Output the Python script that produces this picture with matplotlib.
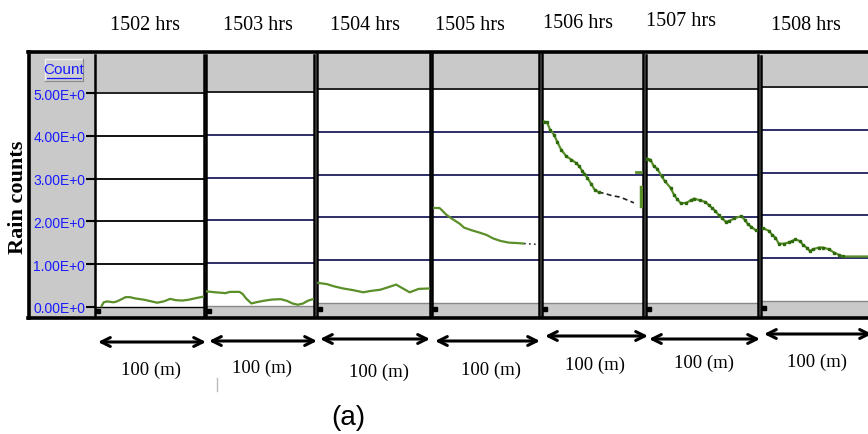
import matplotlib

matplotlib.use("Agg")

import matplotlib.pyplot as plt
from matplotlib.lines import Line2D
from matplotlib.patches import Rectangle

W, H = 868, 435

hours = ["1502 hrs", "1503 hrs", "1504 hrs", "1505 hrs", "1506 hrs", "1507 hrs", "1508 hrs"]
y_ticks = [0, 1, 2, 3, 4, 5]
y_tick_labels = ["0.00E+0", "1.00E+0", "2.00E+0", "3.00E+0", "4.00E+0", "5.00E+0"]
y_label = "Rain counts"
unit_label = "Count"
span_label = "100 (m)"
caption = "(a)"

# rain counts along each 100 m segment (x in % of segment)
p1_x = [6, 8, 11, 17, 20, 25, 28, 32, 37, 45, 52, 57, 63, 69, 74, 80, 86, 93, 99]
p1_y = [0.02, 0.11, 0.13, 0.11, 0.13, 0.19, 0.23, 0.23, 0.20, 0.17, 0.13, 0.10, 0.13, 0.19, 0.16, 0.15, 0.17, 0.21, 0.24]
p2_x = [1, 9, 18, 22, 31, 34, 37, 42, 47, 53, 61, 69, 75, 80, 85, 90, 94, 99]
p2_y = [0.34, 0.32, 0.30, 0.33, 0.33, 0.28, 0.18, 0.06, 0.09, 0.12, 0.15, 0.16, 0.12, 0.06, 0.03, 0.06, 0.12, 0.16]
p3_x = [1, 9, 15, 23, 32, 41, 47, 56, 62, 70, 76, 82, 90, 100]
p3_y = [0.47, 0.44, 0.39, 0.34, 0.30, 0.25, 0.28, 0.31, 0.36, 0.43, 0.34, 0.25, 0.33, 0.34]
p4_x = [2, 7, 10, 13, 18, 26, 30, 37, 45, 51, 57, 64, 72, 80, 85]
p4_y = [2.22, 2.22, 2.15, 2.07, 1.98, 1.85, 1.76, 1.70, 1.64, 1.59, 1.51, 1.45, 1.41, 1.40, 1.39]
p5_x = [2, 5, 8, 12, 15, 19, 24, 29, 34, 37, 40, 42, 45, 49, 52, 56]
p5_y = [4.24, 4.22, 4.05, 3.93, 3.77, 3.58, 3.43, 3.35, 3.27, 3.19, 3.08, 3.02, 2.92, 2.77, 2.65, 2.59]
p6_x = [1, 4, 7, 10, 14, 17, 22, 25, 28, 31, 36, 40, 43, 48, 53, 56, 59, 62, 65, 68, 71, 74, 79, 85, 88, 91, 94, 98]
p6_y = [3.37, 3.35, 3.19, 3.14, 2.96, 2.84, 2.69, 2.53, 2.42, 2.33, 2.34, 2.40, 2.44, 2.40, 2.36, 2.29, 2.22, 2.15,
        2.05, 1.98, 1.90, 1.91, 1.98, 2.03, 1.95, 1.84, 1.78, 1.70]
p7_x = [2, 7, 10, 13, 16, 21, 25, 28, 31, 35, 38, 41, 44, 47, 52, 56, 61, 66, 70, 74, 98]
p7_y = [1.70, 1.64, 1.55, 1.48, 1.34, 1.34, 1.37, 1.40, 1.44, 1.40, 1.31, 1.25, 1.17, 1.21, 1.25, 1.25, 1.21, 1.13,
        1.08, 1.04, 1.04]

# dotted (unsmoothed) tails and stray pieces
p4_tail_x = [86, 90, 94, 97]
p4_tail_y = [1.39, 1.38, 1.38, 1.37]
p5_tail_x = [56, 62, 69, 76, 82, 91]
p5_tail_y = [2.59, 2.56, 2.51, 2.48, 2.43, 2.34]
p5_end_x = [93, 98]
p5_end_y = [3.06, 3.06]
p5_drop_x = [98.5, 98.5]
p5_drop_y = [2.70, 2.26]

series_x = [p1_x, p2_x, p3_x, p4_x, p5_x, p6_x, p7_x]
series_y = [p1_y, p2_y, p3_y, p4_y, p5_y, p6_y, p7_y]

# layout in pixels: panel left/right, y of value 0, header top
panel_left = [95, 206, 317, 432, 542, 646, 761]
panel_right = [204, 314, 430, 539, 643, 758, 872]
zero_px = [308, 307, 304, 304, 304, 304, 302]
top_px = [56, 56, 55, 55, 55, 56, 57]
bottom_px = 317
px_per_unit = 42.8
title_x = [145, 258, 365, 470, 578, 681, 806]
title_y = [25, 25, 25, 26, 24, 22, 25]
arrow_y = [343, 342, 340, 342, 337, 340, 335]
arrow_right = [206, 317, 430, 540, 648, 760, 872]
span_x = [151, 262, 379, 491, 595, 704, 817]
span_y = [370, 368, 372, 370, 365, 363, 362]
marked = [False, False, False, False, True, True, True]

GRAY = "#c9c9c9"
GREEN = "#5a8f29"
DARK_GREEN = "#2f6b0c"
NAVY = "#1c1c5e"
BLUE = "#1a1aff"


def fx(x):
    return x / W


def fy(y):
    return 1 - y / H


fig = plt.figure(figsize=(W / 100, H / 100), dpi=100)
fig.patch.set_facecolor("white")

bg = fig.add_axes([0, 0, 1, 1], zorder=-1)
bg.set_xlim(0, W)
bg.set_ylim(H, 0)
bg.axis("off")
bg.add_patch(Rectangle((29, 53), W - 29, 266, facecolor=GRAY, edgecolor="none"))

# "Count" button
bg.add_patch(Rectangle((45, 60), 38, 22, facecolor="#d0d0d0", edgecolor="#f2f2f2", lw=1.0))
bg.plot([45, 83, 83], [82, 82, 60], color="#8a8a8a", lw=1.0)
bg.text(64, 70, unit_label, color=BLUE, fontsize=11, family="Liberation Sans", ha="center", va="center")
bg.plot([47, 81], [78.5, 78.5], color=BLUE, lw=0.9)

bg.text(18, 197, y_label, rotation=90, fontsize=16, fontweight="bold", family="Liberation Serif",
        ha="center", va="center")

for i, hour in enumerate(hours):
    bg.text(title_x[i], title_y[i], hour, fontsize=14.5, family="Liberation Serif", ha="center", va="center")
    bg.annotate("", xy=(arrow_right[i], arrow_y[i]), xytext=(panel_left[i] + 3, arrow_y[i]),
                annotation_clip=False,
                arrowprops=dict(arrowstyle="<->", lw=2.2, color="black", mutation_scale=16,
                                shrinkA=0, shrinkB=0))
    bg.text(span_x[i], span_y[i], span_label, fontsize=13.5, family="Liberation Serif", ha="center", va="center")

bg.plot([217, 217], [379, 392], color="#bbbbbb", lw=1)
bg.text(348, 418, caption, fontsize=20, family="Liberation Sans", ha="center", va="center")

for i in range(len(hours)):
    l, r = panel_left[i], panel_right[i]
    ax = fig.add_axes([fx(l), fy(bottom_px), (r - l) / W, (bottom_px - top_px[i]) / H], zorder=1)
    ymin = -(bottom_px - zero_px[i]) / px_per_unit
    ymax = (zero_px[i] - top_px[i]) / px_per_unit
    ax.set_xlim(0, 100)
    ax.set_ylim(ymin, ymax)
    ax.set_facecolor("white")
    ax.axhspan(5, ymax, color=GRAY, lw=0)
    ax.axhspan(ymin, 0, color=GRAY, lw=0)
    grid_color = "black" if i == 0 else NAVY
    for level in [1, 2, 3, 4]:
        ax.axhline(level, color=grid_color, lw=1.3)
    ax.axhline(5, color="#222222", lw=1.4)
    ax.axhline(0, color="#888888" if i else "black", lw=1.0)
    ax.plot(series_x[i], series_y[i], color=GREEN, lw=1.6, zorder=3)
    if marked[i]:
        ax.plot(series_x[i], series_y[i], ls="none", marker="s", ms=2.0, color=DARK_GREEN, zorder=4)
    ax.plot([2.5], [ymin * 0.45], marker="s", ms=3.5 if i else 2.5, color="black")
    for side in ["top", "bottom"]:
        ax.spines[side].set_visible(False)
    for side in ["left", "right"]:
        ax.spines[side].set_linewidth(1.8)
        ax.spines[side].set_color("black")
    ax.set_xticks([])
    if i == 0:
        ax.set_yticks(y_ticks)
        ax.set_yticklabels(y_tick_labels)
        ax.tick_params(axis="y", direction="out", length=6.5, width=1.5, color="black",
                       labelcolor=BLUE, labelsize=10, pad=0.5)
        for lbl in ax.get_yticklabels():
            lbl.set_fontfamily("Liberation Sans")
    else:
        ax.set_yticks([])
    if i == 3:
        ax.plot(p4_tail_x, p4_tail_y, color="#333333", lw=1.2, ls=(0, (1, 2)), zorder=3)
    if i == 4:
        ax.plot(p5_tail_x, p5_tail_y, color="#222222", lw=1.2, ls=(0, (3, 2)), zorder=3)
        ax.plot(p5_end_x, p5_end_y, color=GREEN, lw=2, zorder=3)
        ax.plot(p5_drop_x, p5_drop_y, color=GREEN, lw=2.5, zorder=3)

# outer frame
for xs, ys in [([28, W], [53, 53]), ([28, W], [319, 319]), ([29, 29], [53, 319])]:
    fig.add_artist(Line2D([fx(x) for x in xs], [fy(y) for y in ys], color="black", lw=2.6))

fig.savefig("out.png", dpi=100)
